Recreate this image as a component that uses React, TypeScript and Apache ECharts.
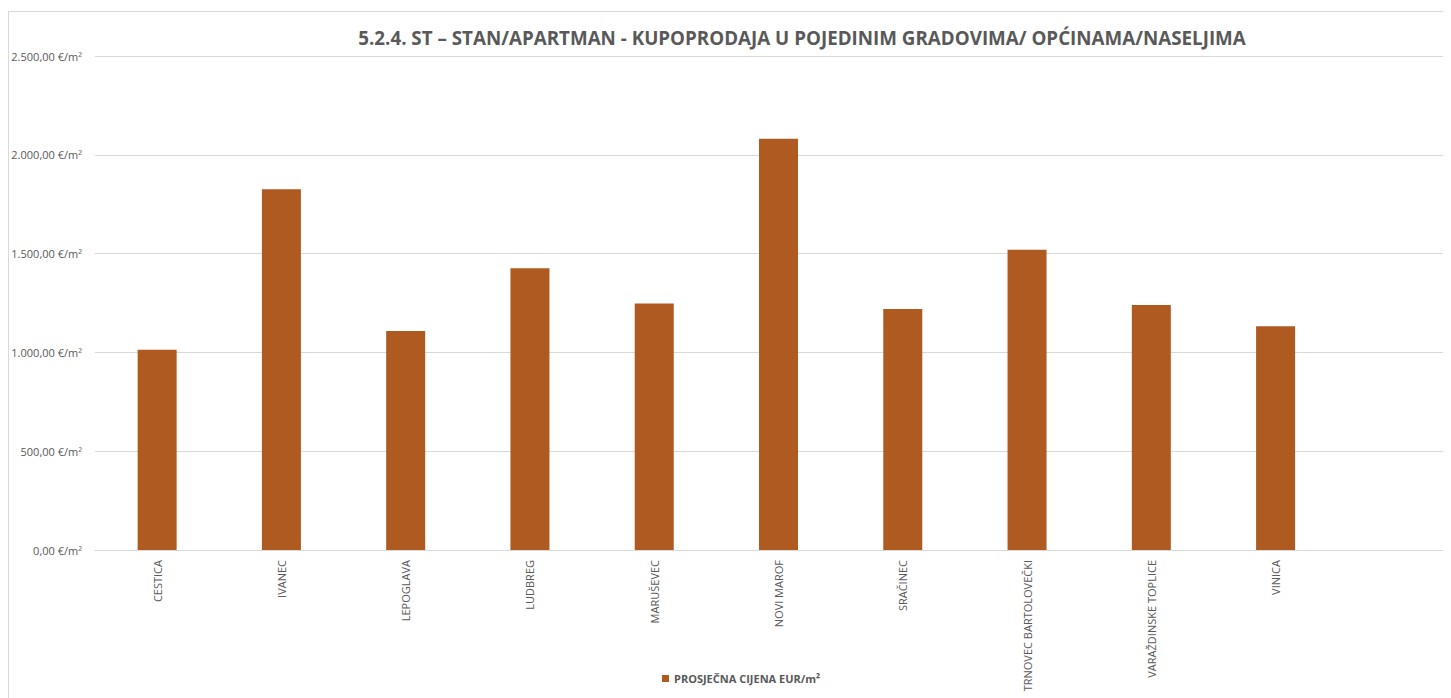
import React, { useEffect, useRef } from "react";
import * as echarts from "echarts";

const categories = [
  "CESTICA",
  "IVANEC",
  "LEPOGLAVA",
  "LUDBREG",
  "MARUŠEVEC",
  "NOVI MAROF",
  "SRAČINEC",
  "TRNOVEC BARTOLOVEČKI",
  "VARAŽDINSKE TOPLICE",
  "VINICA",
  "",
];
const prices = [1014, 1826, 1108, 1426, 1248, 2081, 1220, 1520, 1240, 1132, null];
const seriesName = "PROSJEČNA CIJENA EUR/m²";
const titleText = "5.2.4. ST – STAN/APARTMAN - KUPOPRODAJA U POJEDINIM GRADOVIMA/ OPĆINAMA/NASELJIMA";
const yTicks = [0, 500, 1000, 1500, 2000, 2500];

const FONT = "'Open Sans', 'Noto Sans', sans-serif";

function fmt(v: number): string {
  const int = Math.round(v).toString().replace(/\B(?=(\d{3})+(?!\d))/g, ".");
  return `${int},00 €/m²`;
}

export default function App() {
  const ref = useRef<HTMLDivElement>(null);
  useEffect(() => {
    document.documentElement.style.overflow = "hidden";
    document.body.style.overflow = "hidden";
    const chart = echarts.init(ref.current!, undefined, { renderer: "svg" });
    chart.setOption({
      animation: false,
      backgroundColor: "#ffffff",
      textStyle: { fontFamily: FONT },
      graphic: [
        {
          type: "rect",
          shape: { x: 0.5, y: 3.5, width: 1590, height: 720 },
          style: { fill: "none", stroke: "#d9d9d9", lineWidth: 1 },
          silent: true,
        },
        {
          type: "text",
          x: 794,
          y: 30,
          style: {
            text: titleText,
            fill: "#595959",
            font: `bold 18.8px ${FONT}`,
            textAlign: "center",
            textVerticalAlign: "middle",
          },
        },
      ],
      legend: {
        left: 654,
        top: 665,
        padding: 0,
        itemWidth: 7,
        itemHeight: 7,
        itemGap: 10,
        icon: "rect",
        textStyle: { color: "#595959", fontSize: 11, fontWeight: "bold", fontFamily: FONT },
        data: [seriesName],
      },
      grid: { left: 87, top: 48, width: 1367, height: 494, containLabel: false },
      xAxis: {
        type: "category",
        data: categories,
        axisLine: { lineStyle: { color: "#d9d9d9" } },
        axisTick: { show: false },
        axisLabel: {
          rotate: 90,
          interval: 0,
          margin: 10,
          color: "#595959",
          fontSize: 11,
          fontFamily: FONT,
        },
      },
      yAxis: {
        type: "value",
        min: 0,
        max: 2500,
        interval: 500,
        axisLine: { show: false },
        axisTick: { show: false },
        splitLine: { lineStyle: { color: "#d9d9d9" } },
        axisLabel: {
          margin: 13,
          color: "#595959",
          fontSize: 11,
          fontFamily: FONT,
          formatter: (v: number) => (yTicks.includes(v) ? fmt(v) : ""),
        },
      },
      series: [
        {
          name: seriesName,
          type: "bar",
          data: prices,
          barWidth: 39,
          itemStyle: { color: "#AE5A21" },
        },
      ],
    });
    return () => chart.dispose();
  }, []);
  return <div ref={ref} style={{ width: 1600, height: 690 }} />;
}
